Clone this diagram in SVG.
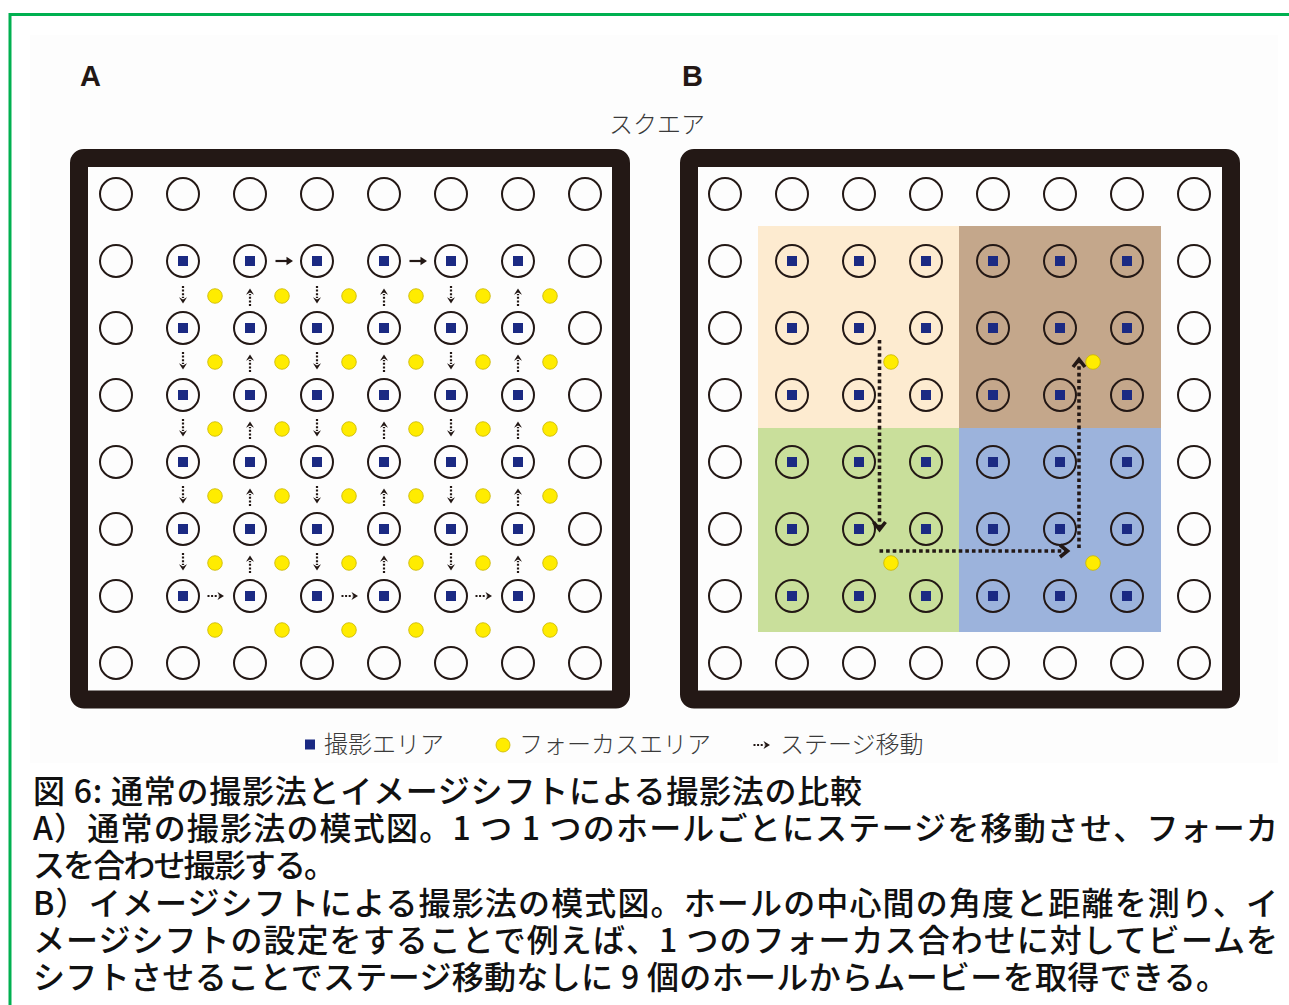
<svg xmlns="http://www.w3.org/2000/svg" width="1289" height="1005" viewBox="0 0 1289 1005">
<style>
.frame{fill:none;stroke:#231815;stroke-width:18;stroke-linejoin:round}
.ring{fill:none;stroke:#231815;stroke-width:2}
.sq{fill:#1b2a83}
.yel{fill:#ffec00;stroke:#c9b500;stroke-width:0.8}
.ink{stroke:#231815;fill:none}
.head{fill:#231815}
.path{fill:none;stroke:#231815;stroke-width:3.6;stroke-dasharray:3.6 3}
.chev{fill:none;stroke:#231815;stroke-width:3.6;stroke-linecap:butt}
.lbl{font-family:"Liberation Sans",Arial,sans-serif;font-weight:bold;font-size:29px;fill:#231815}
.jp{font-family:"Noto Sans CJK JP","Noto Sans",sans-serif;font-size:24px;fill:#3a3a3a;font-weight:300}
.cap{font-family:"Noto Sans CJK JP","Noto Sans",sans-serif;font-size:32px;fill:#111;font-weight:500}
</style>
<defs>
<g id="r"><circle r="16" class="ring"/></g>
<g id="h"><circle r="16" class="ring"/><rect x="-5" y="-5" width="10" height="10" class="sq"/></g>
<g id="y"><circle r="7.3" class="yel"/></g>
<g id="ad"><line x1="0" y1="-10" x2="0" y2="2" class="ink" stroke-width="2.2" stroke-dasharray="2 1.6"/><path d="M-4,1.2 L0,7.5 L4,1.2 L0,3.5 Z" class="head"/></g>
<g id="ah"><line x1="-8" y1="0" x2="4" y2="0" class="ink" stroke-width="2.2"/><path d="M3,-4.2 L9.5,0 L3,4.2 Z" class="head"/></g>
<g id="adh"><line x1="-8.5" y1="0" x2="2.5" y2="0" class="ink" stroke-width="2.2" stroke-dasharray="2 1.6"/><path d="M1.5,-4 L8,0 L1.5,4 L3.5,0 Z" class="head"/></g>
</defs>
<rect width="1289" height="1005" fill="#ffffff"/>
<rect x="30" y="35" width="1248" height="728" fill="#fdfdfd"/>
<path d="M10,1005 V14.5 H1289" fill="none" stroke="#00b050" stroke-width="3"/>

<text class="lbl" x="80" y="86">A</text>
<text class="lbl" x="682" y="86">B</text>
<text class="jp" x="657" y="133" text-anchor="middle">スクエア</text>

<g id="panel-a">
<rect class="frame" x="79" y="158" width="542" height="541.5" rx="5"/>
<g id="a-holes">
<use href="#r" x="116" y="194"/><use href="#r" x="183" y="194"/><use href="#r" x="250" y="194"/><use href="#r" x="317" y="194"/><use href="#r" x="384" y="194"/><use href="#r" x="451" y="194"/><use href="#r" x="518" y="194"/><use href="#r" x="585" y="194"/>
<use href="#r" x="116" y="261"/><use href="#h" x="183" y="261"/><use href="#h" x="250" y="261"/><use href="#h" x="317" y="261"/><use href="#h" x="384" y="261"/><use href="#h" x="451" y="261"/><use href="#h" x="518" y="261"/><use href="#r" x="585" y="261"/>
<use href="#r" x="116" y="328"/><use href="#h" x="183" y="328"/><use href="#h" x="250" y="328"/><use href="#h" x="317" y="328"/><use href="#h" x="384" y="328"/><use href="#h" x="451" y="328"/><use href="#h" x="518" y="328"/><use href="#r" x="585" y="328"/>
<use href="#r" x="116" y="395"/><use href="#h" x="183" y="395"/><use href="#h" x="250" y="395"/><use href="#h" x="317" y="395"/><use href="#h" x="384" y="395"/><use href="#h" x="451" y="395"/><use href="#h" x="518" y="395"/><use href="#r" x="585" y="395"/>
<use href="#r" x="116" y="462"/><use href="#h" x="183" y="462"/><use href="#h" x="250" y="462"/><use href="#h" x="317" y="462"/><use href="#h" x="384" y="462"/><use href="#h" x="451" y="462"/><use href="#h" x="518" y="462"/><use href="#r" x="585" y="462"/>
<use href="#r" x="116" y="529"/><use href="#h" x="183" y="529"/><use href="#h" x="250" y="529"/><use href="#h" x="317" y="529"/><use href="#h" x="384" y="529"/><use href="#h" x="451" y="529"/><use href="#h" x="518" y="529"/><use href="#r" x="585" y="529"/>
<use href="#r" x="116" y="596"/><use href="#h" x="183" y="596"/><use href="#h" x="250" y="596"/><use href="#h" x="317" y="596"/><use href="#h" x="384" y="596"/><use href="#h" x="451" y="596"/><use href="#h" x="518" y="596"/><use href="#r" x="585" y="596"/>
<use href="#r" x="116" y="663"/><use href="#r" x="183" y="663"/><use href="#r" x="250" y="663"/><use href="#r" x="317" y="663"/><use href="#r" x="384" y="663"/><use href="#r" x="451" y="663"/><use href="#r" x="518" y="663"/><use href="#r" x="585" y="663"/>
</g>
<g id="a-focus">
<use href="#y" x="215" y="296"/><use href="#y" x="282" y="296"/><use href="#y" x="349" y="296"/><use href="#y" x="416" y="296"/><use href="#y" x="483" y="296"/><use href="#y" x="550" y="296"/>
<use href="#y" x="215" y="362"/><use href="#y" x="282" y="362"/><use href="#y" x="349" y="362"/><use href="#y" x="416" y="362"/><use href="#y" x="483" y="362"/><use href="#y" x="550" y="362"/>
<use href="#y" x="215" y="429"/><use href="#y" x="282" y="429"/><use href="#y" x="349" y="429"/><use href="#y" x="416" y="429"/><use href="#y" x="483" y="429"/><use href="#y" x="550" y="429"/>
<use href="#y" x="215" y="496"/><use href="#y" x="282" y="496"/><use href="#y" x="349" y="496"/><use href="#y" x="416" y="496"/><use href="#y" x="483" y="496"/><use href="#y" x="550" y="496"/>
<use href="#y" x="215" y="563"/><use href="#y" x="282" y="563"/><use href="#y" x="349" y="563"/><use href="#y" x="416" y="563"/><use href="#y" x="483" y="563"/><use href="#y" x="550" y="563"/>
<use href="#y" x="215" y="630"/><use href="#y" x="282" y="630"/><use href="#y" x="349" y="630"/><use href="#y" x="416" y="630"/><use href="#y" x="483" y="630"/><use href="#y" x="550" y="630"/>
</g>
</g>

<g id="panel-b">
<rect class="frame" x="689" y="158" width="542" height="541.5" rx="5"/>
<g id="b-areas">
<rect x="758" y="226" width="201" height="202" fill="#fdebd0"/>
<rect x="959" y="226" width="202" height="202" fill="#c4a78b"/>
<rect x="758" y="428" width="201" height="204" fill="#c9df9b"/>
<rect x="959" y="428" width="202" height="204" fill="#9cb3dc"/>
</g>
<g id="b-holes">
<use href="#r" x="725" y="194"/><use href="#r" x="792" y="194"/><use href="#r" x="859" y="194"/><use href="#r" x="926" y="194"/><use href="#r" x="993" y="194"/><use href="#r" x="1060" y="194"/><use href="#r" x="1127" y="194"/><use href="#r" x="1194" y="194"/>
<use href="#r" x="725" y="261"/><use href="#h" x="792" y="261"/><use href="#h" x="859" y="261"/><use href="#h" x="926" y="261"/><use href="#h" x="993" y="261"/><use href="#h" x="1060" y="261"/><use href="#h" x="1127" y="261"/><use href="#r" x="1194" y="261"/>
<use href="#r" x="725" y="328"/><use href="#h" x="792" y="328"/><use href="#h" x="859" y="328"/><use href="#h" x="926" y="328"/><use href="#h" x="993" y="328"/><use href="#h" x="1060" y="328"/><use href="#h" x="1127" y="328"/><use href="#r" x="1194" y="328"/>
<use href="#r" x="725" y="395"/><use href="#h" x="792" y="395"/><use href="#h" x="859" y="395"/><use href="#h" x="926" y="395"/><use href="#h" x="993" y="395"/><use href="#h" x="1060" y="395"/><use href="#h" x="1127" y="395"/><use href="#r" x="1194" y="395"/>
<use href="#r" x="725" y="462"/><use href="#h" x="792" y="462"/><use href="#h" x="859" y="462"/><use href="#h" x="926" y="462"/><use href="#h" x="993" y="462"/><use href="#h" x="1060" y="462"/><use href="#h" x="1127" y="462"/><use href="#r" x="1194" y="462"/>
<use href="#r" x="725" y="529"/><use href="#h" x="792" y="529"/><use href="#h" x="859" y="529"/><use href="#h" x="926" y="529"/><use href="#h" x="993" y="529"/><use href="#h" x="1060" y="529"/><use href="#h" x="1127" y="529"/><use href="#r" x="1194" y="529"/>
<use href="#r" x="725" y="596"/><use href="#h" x="792" y="596"/><use href="#h" x="859" y="596"/><use href="#h" x="926" y="596"/><use href="#h" x="993" y="596"/><use href="#h" x="1060" y="596"/><use href="#h" x="1127" y="596"/><use href="#r" x="1194" y="596"/>
<use href="#r" x="725" y="663"/><use href="#r" x="792" y="663"/><use href="#r" x="859" y="663"/><use href="#r" x="926" y="663"/><use href="#r" x="993" y="663"/><use href="#r" x="1060" y="663"/><use href="#r" x="1127" y="663"/><use href="#r" x="1194" y="663"/>
</g>
<g id="b-focus">
<use href="#y" x="891" y="362"/><use href="#y" x="1093" y="362"/><use href="#y" x="891" y="563"/><use href="#y" x="1093" y="563"/>
</g>
</g>

<g id="connectors">
<g id="a-vertical">
<use href="#ad" transform="translate(183,296)"/><use href="#ad" transform="translate(250,296) rotate(180)"/><use href="#ad" transform="translate(317,296)"/><use href="#ad" transform="translate(384,296) rotate(180)"/><use href="#ad" transform="translate(451,296)"/><use href="#ad" transform="translate(518,296) rotate(180)"/>
<use href="#ad" transform="translate(183,362)"/><use href="#ad" transform="translate(250,362) rotate(180)"/><use href="#ad" transform="translate(317,362)"/><use href="#ad" transform="translate(384,362) rotate(180)"/><use href="#ad" transform="translate(451,362)"/><use href="#ad" transform="translate(518,362) rotate(180)"/>
<use href="#ad" transform="translate(183,429)"/><use href="#ad" transform="translate(250,429) rotate(180)"/><use href="#ad" transform="translate(317,429)"/><use href="#ad" transform="translate(384,429) rotate(180)"/><use href="#ad" transform="translate(451,429)"/><use href="#ad" transform="translate(518,429) rotate(180)"/>
<use href="#ad" transform="translate(183,496)"/><use href="#ad" transform="translate(250,496) rotate(180)"/><use href="#ad" transform="translate(317,496)"/><use href="#ad" transform="translate(384,496) rotate(180)"/><use href="#ad" transform="translate(451,496)"/><use href="#ad" transform="translate(518,496) rotate(180)"/>
<use href="#ad" transform="translate(183,563)"/><use href="#ad" transform="translate(250,563) rotate(180)"/><use href="#ad" transform="translate(317,563)"/><use href="#ad" transform="translate(384,563) rotate(180)"/><use href="#ad" transform="translate(451,563)"/><use href="#ad" transform="translate(518,563) rotate(180)"/>
</g>
<g id="a-horizontal">
<use href="#ah" x="283.5" y="261"/><use href="#ah" x="417.5" y="261"/>
<use href="#adh" x="216" y="596"/><use href="#adh" x="350" y="596"/><use href="#adh" x="484" y="596"/>
</g>
<g id="b-path">
<path class="path" d="M879.5,340 V527"/>
<polyline class="chev" points="873.5,522 879.5,529.5 885.5,522"/>
<path class="path" d="M879.5,551 H1065"/>
<polyline class="chev" points="1060,545 1067.5,551 1060,557"/>
<path class="path" d="M1079,548 V362"/>
<polyline class="chev" points="1073,367 1079,359.5 1085,367"/>
</g>
</g>

<g id="legend">
<rect x="305" y="739.5" width="10" height="10" class="sq"/>
<text class="jp" x="324" y="753">撮影エリア</text>
<circle cx="503" cy="745" r="7" class="yel"/>
<text class="jp" x="519" y="753">フォーカスエリア</text>
<use href="#adh" x="762" y="745"/>
<text class="jp" x="780" y="753">ステージ移動</text>
</g>

<g id="caption">
<text class="cap" x="33" y="803" textLength="829">図 6: 通常の撮影法とイメージシフトによる撮影法の比較</text>
<text class="cap" x="33" y="840" textLength="1245">A）通常の撮影法の模式図。1 つ 1 つのホールごとにステージを移動させ、フォーカ</text>
<text class="cap" x="33" y="877" textLength="303">スを合わせ撮影する。</text>
<text class="cap" x="33" y="915" textLength="1245">B）イメージシフトによる撮影法の模式図。ホールの中心間の角度と距離を測り、イ</text>
<text class="cap" x="33" y="952" textLength="1245">メージシフトの設定をすることで例えば、1 つのフォーカス合わせに対してビームを</text>
<text class="cap" x="33" y="989" textLength="1195">シフトさせることでステージ移動なしに 9 個のホールからムービーを取得できる。</text>
</g>
</svg>
